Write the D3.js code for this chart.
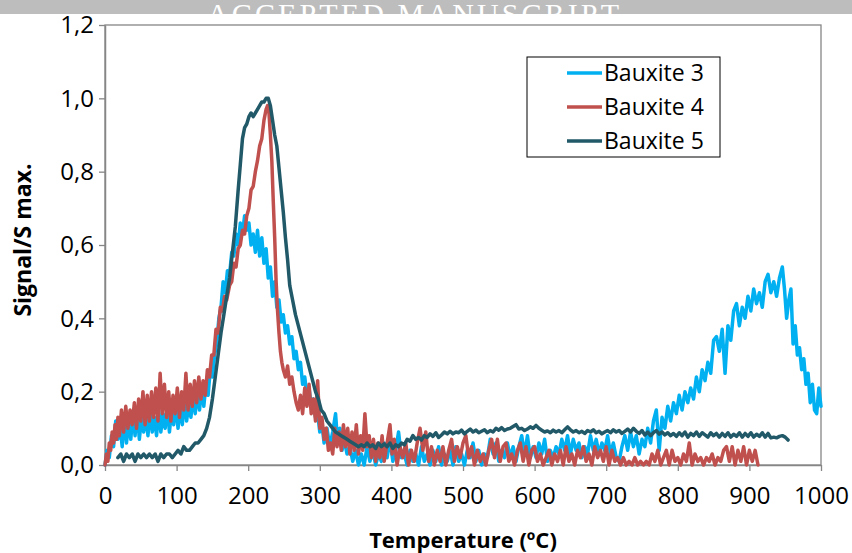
<!DOCTYPE html>
<html>
<head>
<meta charset="utf-8">
<script src="https://cdn.jsdelivr.net/npm/d3@7"></script>
<style>
  body { margin: 0; background: #fff; }
  text { font-family: "Open Sans", Lato, sans-serif; }
</style>
</head>
<body>
<div id="chart"></div>
<script>
// Tick values for both axes
const xTicks = [0, 100, 200, 300, 400, 500, 600, 700, 800, 900, 1000];
const yTicks = [0, 0.2, 0.4, 0.6, 0.8, 1.0, 1.2];

// Series: [temperature ºC, signal / S max]
const bauxite3 = [
  [0,0.0],[3,0.04],[6,0.02],[9,0.08],[12,0.05],[15,0.12],[18,0.07],[21,0.11],[24,0.05],[27,0.13],
  [30,0.06],[33,0.12],[36,0.07],[39,0.14],[42,0.08],[45,0.15],[48,0.07],[51,0.13],[54,0.09],[57,0.14],
  [60,0.08],[63,0.15],[66,0.09],[69,0.13],[72,0.08],[75,0.15],[78,0.09],[81,0.14],[84,0.1],[87,0.16],
  [90,0.09],[93,0.15],[96,0.11],[99,0.17],[102,0.1],[105,0.16],[108,0.11],[111,0.18],[114,0.12],[117,0.17],
  [120,0.13],[123,0.19],[126,0.14],[129,0.2],[132,0.15],[135,0.21],[138,0.16],[141,0.22],[144,0.19],[147,0.26],
  [150,0.24],[153,0.3],[156,0.33],[159,0.4],[162,0.43],[165,0.5],[168,0.47],[171,0.53],[174,0.52],[177,0.58],
  [180,0.57],[183,0.63],[186,0.6],[189,0.66],[192,0.63],[195,0.68],[198,0.64],[201,0.66],[204,0.6],[207,0.63],
  [210,0.58],[213,0.64],[216,0.57],[219,0.62],[222,0.55],[225,0.59],[228,0.51],[231,0.54],[234,0.46],[237,0.5],
  [240,0.43],[243,0.45],[246,0.39],[249,0.41],[252,0.36],[255,0.38],[258,0.33],[261,0.35],[264,0.29],[267,0.31],
  [270,0.26],[273,0.28],[276,0.22],[279,0.24],[282,0.19],[285,0.21],[288,0.16],[291,0.18],[294,0.13],[297,0.14],
  [300,0.09],[303,0.11],[306,0.06],[310,0.1],[314,0.05],[318,0.09],[322,0.14],[325,0.06],[328,0.1],[331,0.04],
  [334,0.07],[338,0.03],[342,0.05],[346,0.01],[350,0.04],[354,0.0],[358,0.03],[362,0.0],[366,0.05],[370,0.01],
  [374,0.04],[378,0.0],[382,0.03],[386,0.01],[390,0.06],[394,0.02],[398,0.07],[402,0.01],[406,0.04],[410,0.09],
  [414,0.02],[418,0.03],[422,0.0],[426,0.04],[430,0.01],[434,0.03],[438,0.0],[442,0.05],[446,0.01],[450,0.03],
  [454,0.0],[458,0.04],[462,0.01],[466,0.05],[470,0.0],[474,0.03],[478,0.01],[482,0.04],[486,0.0],[490,0.05],
  [494,0.01],[498,0.03],[502,0.0],[506,0.04],[510,0.02],[514,0.06],[518,0.01],[522,0.04],[526,0.0],[530,0.03],
  [534,0.02],[538,0.07],[542,0.03],[546,0.06],[550,0.01],[554,0.04],[558,0.02],[562,0.06],[566,0.02],[570,0.05],
  [574,0.01],[578,0.05],[582,0.08],[586,0.03],[590,0.08],[594,0.02],[598,0.05],[602,0.02],[606,0.06],[610,0.03],
  [614,0.07],[618,0.01],[622,0.04],[626,0.02],[630,0.05],[634,0.03],[638,0.07],[642,0.04],[646,0.08],[650,0.03],
  [654,0.07],[658,0.04],[662,0.06],[666,0.02],[670,0.05],[674,0.03],[678,0.08],[682,0.04],[686,0.07],[690,0.03],
  [694,0.06],[698,0.04],[702,0.08],[706,0.03],[710,0.06],[714,0.02],[718,0.01],[722,0.05],[726,0.08],[730,0.04],
  [734,0.09],[738,0.05],[742,0.08],[746,0.03],[750,0.07],[754,0.05],[758,0.1],[762,0.06],[766,0.12],[770,0.15],
  [774,0.04],[778,0.13],[782,0.1],[786,0.16],[790,0.12],[794,0.17],[798,0.14],[802,0.19],[806,0.15],[810,0.2],
  [814,0.17],[818,0.21],[822,0.18],[826,0.24],[830,0.2],[834,0.26],[838,0.23],[842,0.28],[846,0.25],[850,0.34],
  [854,0.35],[858,0.31],[862,0.37],[866,0.25],[870,0.38],[874,0.34],[878,0.42],[882,0.44],[886,0.38],[890,0.43],
  [894,0.4],[898,0.46],[902,0.42],[906,0.48],[910,0.44],[914,0.47],[918,0.43],[922,0.5],[926,0.52],[930,0.47],
  [934,0.5],[938,0.46],[942,0.51],[946,0.54],[949,0.48],[952,0.4],[955,0.45],[958,0.48],[961,0.33],[964,0.38],
  [967,0.3],[970,0.32],[973,0.26],[976,0.29],[979,0.22],[982,0.25],[985,0.17],[988,0.22],[991,0.15],[994,0.14],
  [997,0.21],[1000,0.16]
];

const bauxite4 = [
  [0,0.0],[2,0.03],[4,0.01],[6,0.06],[8,0.04],[10,0.09],[12,0.06],[14,0.11],[16,0.07],[18,0.13],
  [20,0.08],[23,0.15],[26,0.09],[29,0.16],[32,0.1],[35,0.15],[38,0.11],[41,0.17],[44,0.1],[47,0.18],
  [50,0.12],[53,0.2],[56,0.11],[59,0.19],[62,0.12],[65,0.2],[68,0.13],[71,0.21],[74,0.12],[77,0.25],
  [80,0.14],[83,0.22],[86,0.13],[89,0.2],[92,0.12],[95,0.19],[98,0.14],[101,0.21],[104,0.13],[107,0.2],
  [110,0.15],[113,0.25],[116,0.15],[119,0.22],[122,0.16],[125,0.23],[128,0.17],[131,0.24],[134,0.18],[137,0.23],
  [140,0.19],[143,0.26],[146,0.24],[149,0.3],[152,0.3],[155,0.37],[158,0.36],[161,0.43],[164,0.42],[167,0.46],
  [170,0.45],[174,0.49],[177,0.5],[180,0.55],[183,0.54],[186,0.59],[189,0.6],[192,0.64],[195,0.63],[198,0.68],
  [201,0.7],[204,0.75],[207,0.76],[210,0.8],[213,0.83],[216,0.87],[219,0.89],[222,0.94],[225,0.97],[227,0.98],
  [229,0.96],[231,0.9],[233,0.83],[235,0.72],[237,0.62],[239,0.5],[241,0.42],[243,0.36],[245,0.31],[247,0.28],
  [249,0.26],[252,0.24],[255,0.27],[258,0.22],[261,0.24],[264,0.2],[267,0.17],[270,0.15],[273,0.19],[276,0.14],
  [279,0.21],[282,0.16],[285,0.22],[288,0.14],[291,0.18],[294,0.12],[297,0.23],[300,0.1],[303,0.13],[306,0.07],
  [309,0.1],[312,0.04],[315,0.06],[318,0.03],[321,0.1],[324,0.05],[327,0.09],[330,0.04],[333,0.11],[336,0.05],
  [339,0.1],[342,0.03],[345,0.09],[348,0.04],[351,0.11],[354,0.03],[357,0.08],[360,0.04],[363,0.14],[366,0.05],
  [369,0.08],[372,0.02],[375,0.07],[378,0.01],[381,0.06],[384,0.02],[387,0.08],[390,0.01],[394,0.06],[398,0.11],
  [401,0.03],[404,0.07],[408,0.0],[412,0.05],[416,0.02],[420,0.06],[424,0.0],[428,0.04],[432,0.01],[436,0.06],
  [440,0.1],[444,0.04],[448,0.09],[452,0.01],[456,0.05],[460,0.0],[464,0.04],[468,0.01],[472,0.05],[476,0.0],
  [480,0.04],[484,0.07],[488,0.01],[492,0.05],[496,0.02],[500,0.06],[504,0.08],[508,0.02],[512,0.05],[516,0.0],
  [520,0.04],[524,0.01],[528,0.03],[532,0.0],[536,0.04],[540,0.07],[544,0.02],[548,0.07],[552,0.01],[556,0.05],
  [560,0.06],[564,0.01],[568,0.03],[572,0.0],[576,0.04],[580,0.06],[584,0.01],[588,0.05],[592,0.0],[596,0.04],
  [600,0.05],[604,0.01],[608,0.03],[612,0.0],[616,0.02],[620,0.04],[624,0.0],[628,0.03],[632,0.01],[636,0.04],
  [640,0.0],[644,0.05],[648,0.01],[652,0.03],[656,0.0],[660,0.04],[664,0.02],[668,0.05],[672,0.01],[676,0.03],
  [680,0.0],[684,0.05],[688,0.02],[692,0.04],[696,0.01],[700,0.05],[704,0.0],[708,0.04],[712,0.01],[716,0.02],
  [720,0.0],[724,0.02],[728,0.0],[732,0.01],[736,0.0],[740,0.02],[744,0.0],[748,0.01],[752,0.0],[756,0.01],
  [760,0.0],[764,0.03],[768,0.01],[772,0.04],[776,0.0],[780,0.02],[784,0.04],[788,0.0],[792,0.04],[796,0.01],
  [800,0.02],[804,0.0],[808,0.03],[812,0.01],[816,0.06],[820,0.0],[824,0.03],[828,0.01],[832,0.02],[836,0.0],
  [840,0.02],[844,0.01],[848,0.03],[852,0.0],[856,0.02],[860,0.01],[864,0.04],[868,0.05],[872,0.01],[876,0.05],
  [880,0.0],[884,0.04],[888,0.01],[892,0.05],[896,0.0],[900,0.04],[904,0.01],[908,0.04],[912,0.0]
];

const bauxite5 = [
  [18,0.02],[22,0.03],[26,0.01],[30,0.03],[34,0.02],[38,0.03],[42,0.01],[46,0.03],[50,0.02],[54,0.03],
  [58,0.02],[62,0.03],[66,0.02],[70,0.03],[74,0.01],[78,0.03],[82,0.02],[86,0.03],[90,0.03],[94,0.02],
  [98,0.03],[102,0.04],[106,0.03],[110,0.05],[114,0.04],[118,0.04],[122,0.05],[126,0.06],[130,0.06],[134,0.07],
  [138,0.08],[142,0.1],[146,0.13],[150,0.18],[154,0.24],[158,0.3],[162,0.36],[166,0.41],[170,0.46],[174,0.51],
  [178,0.58],[182,0.65],[186,0.75],[189,0.82],[192,0.89],[195,0.92],[198,0.93],[201,0.95],[204,0.96],[207,0.95],
  [210,0.96],[213,0.97],[216,0.98],[219,0.99],[222,0.99],[225,1.0],[228,1.0],[231,0.98],[234,0.94],[237,0.9],
  [240,0.87],[243,0.81],[246,0.75],[249,0.69],[252,0.62],[255,0.56],[258,0.49],[262,0.45],[266,0.41],[270,0.38],
  [274,0.35],[278,0.32],[282,0.29],[286,0.26],[290,0.23],[294,0.2],[298,0.18],[302,0.15],[306,0.14],[310,0.12],
  [314,0.11],[318,0.1],[322,0.09],[326,0.085],[330,0.08],[334,0.075],[338,0.07],[342,0.065],[346,0.06],[350,0.055],
  [354,0.05],[358,0.055],[362,0.05],[366,0.06],[370,0.05],[374,0.055],[378,0.045],[382,0.06],[386,0.05],[390,0.058],
  [394,0.05],[398,0.06],[402,0.045],[406,0.055],[410,0.05],[414,0.06],[418,0.055],[422,0.07],[426,0.065],[430,0.08],
  [434,0.07],[438,0.075],[442,0.068],[446,0.08],[450,0.075],[454,0.085],[458,0.078],[462,0.088],[466,0.075],[470,0.082],
  [474,0.09],[478,0.085],[482,0.092],[486,0.085],[490,0.09],[494,0.088],[498,0.095],[502,0.085],[506,0.092],[510,0.098],
  [514,0.09],[518,0.095],[522,0.088],[526,0.092],[530,0.096],[534,0.088],[538,0.094],[542,0.09],[546,0.1],[550,0.095],
  [554,0.102],[558,0.094],[562,0.098],[566,0.1],[570,0.105],[574,0.11],[578,0.098],[582,0.1],[586,0.094],[590,0.098],
  [594,0.104],[598,0.1],[602,0.108],[606,0.1],[610,0.095],[614,0.09],[618,0.093],[622,0.088],[626,0.095],[630,0.09],
  [634,0.094],[638,0.088],[642,0.096],[646,0.104],[650,0.096],[654,0.09],[658,0.094],[662,0.088],[666,0.092],[670,0.086],
  [674,0.094],[678,0.09],[682,0.096],[686,0.088],[690,0.092],[694,0.085],[698,0.09],[702,0.094],[706,0.088],[710,0.096],
  [714,0.09],[718,0.094],[722,0.086],[726,0.092],[730,0.098],[734,0.09],[738,0.1],[742,0.092],[746,0.086],[750,0.094],
  [754,0.082],[758,0.09],[762,0.08],[766,0.088],[770,0.094],[774,0.084],[778,0.09],[782,0.082],[786,0.088],[790,0.08],
  [794,0.086],[798,0.078],[802,0.088],[806,0.08],[810,0.09],[814,0.076],[818,0.086],[822,0.08],[826,0.09],[830,0.078],
  [834,0.088],[838,0.082],[842,0.076],[846,0.088],[850,0.08],[854,0.086],[858,0.076],[862,0.086],[866,0.078],[870,0.088],
  [874,0.076],[878,0.084],[882,0.078],[886,0.088],[890,0.076],[894,0.086],[898,0.078],[902,0.088],[906,0.076],[910,0.084],
  [914,0.078],[918,0.088],[922,0.076],[926,0.086],[930,0.074],[934,0.076],[938,0.074],[942,0.078],[946,0.08],[950,0.076],
  [954,0.068]
];

const seriesNames = ["Bauxite 3", "Bauxite 4", "Bauxite 5"];
const seriesColors = ["#00b0f0", "#c0504d", "#215968"];
const allSeries = [bauxite3, bauxite4, bauxite5];

const width = 852, height = 553;
const margin = {top: 25, left: 105};
const innerWidth = 821 - margin.left;
const innerHeight = 465 - margin.top;

const svg = d3.select("#chart")
  .append("svg")
  .attr("width", width)
  .attr("height", height);

// Watermark band at the very top
svg.append("rect")
  .attr("x", 0).attr("y", 0)
  .attr("width", width).attr("height", 14)
  .attr("fill", "#bdbdbd");
svg.append("text")
  .attr("x", 413).attr("y", 24)
  .attr("text-anchor", "middle")
  .attr("textLength", 412)
  .style("font-family", "'Liberation Serif', serif")
  .style("font-size", "30px")
  .attr("fill", "#fff")
  .text("ACCEPTED MANUSCRIPT");
// white page below the band hides the lower part of the letters
svg.append("rect")
  .attr("x", 0).attr("y", 14)
  .attr("width", width).attr("height", 12)
  .attr("fill", "#fff");

const g = svg.append("g")
  .attr("transform", `translate(${margin.left},${margin.top})`);

const x = d3.scaleLinear().domain([0, 1000]).range([0, innerWidth]);
const y = d3.scaleLinear().domain([0, 1.2]).range([innerHeight, 0]);

const fmt = d => d3.format(".1f")(d).replace(".", ",");

// Plot frame
g.append("rect")
  .attr("x", 0).attr("y", 0)
  .attr("width", innerWidth).attr("height", innerHeight)
  .attr("fill", "none")
  .attr("stroke", "#868686")
  .attr("stroke-width", 1.3);

// X axis
const xAxis = g.append("g")
  .attr("transform", `translate(0,${innerHeight})`)
  .call(d3.axisBottom(x).tickValues(xTicks).tickFormat(d3.format("d"))
    .tickSize(6).tickSizeOuter(0).tickPadding(16));
xAxis.select(".domain").attr("stroke", "#868686").attr("stroke-width", 1.5);
xAxis.selectAll(".tick line").attr("stroke", "#868686").attr("stroke-width", 1.3);
xAxis.selectAll("text")
  .style("font-size", "24px")
  .style("font-family", "'Open Sans', sans-serif")
  .attr("fill", "#000");

// Y axis
const yAxis = g.append("g")
  .call(d3.axisLeft(y).tickValues(yTicks).tickFormat(fmt).tickSize(6).tickSizeOuter(0).tickPadding(5));
yAxis.select(".domain").attr("stroke", "#868686").attr("stroke-width", 1.5);
yAxis.selectAll(".tick line").attr("stroke", "#868686").attr("stroke-width", 1.3);
yAxis.selectAll("text")
  .style("font-size", "24px")
  .style("font-family", "'Open Sans', sans-serif")
  .attr("fill", "#000");

// Series lines
const line = d3.line()
  .x(d => x(d[0]))
  .y(d => y(d[1]));

allSeries.forEach((s, i) => {
  g.append("path")
    .datum(s)
    .attr("fill", "none")
    .attr("stroke", seriesColors[i])
    .attr("stroke-width", 3.5)
    .attr("stroke-linejoin", "round")
    .attr("stroke-linecap", "round")
    .attr("d", line);
});

// Axis titles
svg.append("text")
  .attr("x", 463)
  .attr("y", 548)
  .attr("text-anchor", "middle")
  .style("font-size", "22px")
  .style("font-weight", "bold")
  .text("Temperature (ºC)");

svg.append("text")
  .attr("transform", `translate(31,240) rotate(-90)`)
  .attr("text-anchor", "middle")
  .style("font-size", "23px")
  .style("font-weight", "bold")
  .text("Signal/S max.");

// Legend
const legend = svg.append("g").attr("transform", "translate(527,57)");
legend.append("rect")
  .attr("width", 193).attr("height", 100)
  .attr("fill", "#fff")
  .attr("stroke", "#000")
  .attr("stroke-width", 1);

seriesNames.forEach((name, i) => {
  const row = legend.append("g").attr("transform", `translate(0,${16 + i * 34})`);
  row.append("line")
    .attr("x1", 40).attr("x2", 75)
    .attr("y1", 0).attr("y2", 0)
    .attr("stroke", seriesColors[i])
    .attr("stroke-width", 3.5);
  row.append("text")
    .attr("x", 77).attr("y", 8)
    .style("font-size", "23px")
    .text(name);
});
</script>
</body>
</html>
